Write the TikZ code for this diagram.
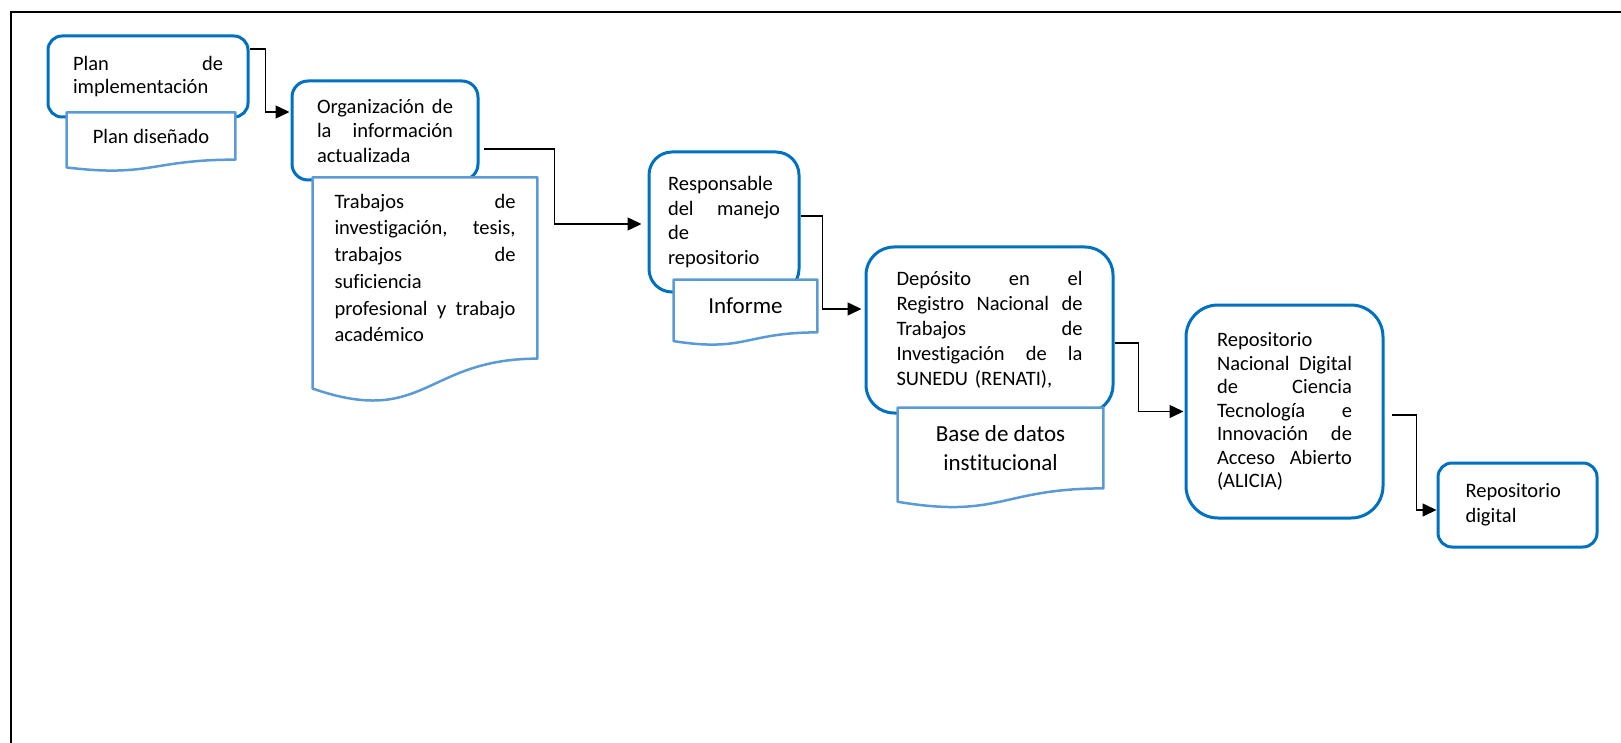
\documentclass[tikz,border=0pt]{standalone}
\usepackage{fontspec}
\setmainfont[Ligatures=NoCommon]{Carlito}
\usetikzlibrary{arrows.meta,calc}
\definecolor{boxblue}{RGB}{0,112,192}
\definecolor{docblue}{RGB}{91,155,213}

\begin{document}
\begin{tikzpicture}[x=0.5pt, y=-0.5pt,
    rbox/.style={draw=boxblue, line width=1.5pt, rounded corners=#1, fill=white, inner sep=0pt, align=left, font=\fontsize{10.25}{12.25}\selectfont},
    docbox/.style={fill=white, inner sep=0pt, font=\fontsize{10.25}{12.25}\selectfont},
    docline/.style={draw=docblue, line width=1.25pt, line join=round},
    conn/.style={-{Triangle[length=7pt,width=6.5pt]}, line width=0.75pt}]
      \useasboundingbox (0,0) rectangle (1621,743);
      % Frame
      \draw[line width=1pt] (11,743) -- (11,12) -- (1621,12);

      % Plan de implementacion
      \node[rbox=7pt, minimum width=100pt, minimum height=40.5pt, text width=75pt, font=\fontsize{10.25}{11.5}\selectfont] (plan) at (148,76.5) {Plan\hfill de\\implementación};
      \node[docbox, minimum width=84pt, minimum height=23.25pt] (plandoc) at (151,136) {Plan diseñado};

      % Organizacion de la informacion
      \node[rbox=8pt, minimum width=93pt, minimum height=49.5pt, text width=68pt] (orga) at (385,130.5) {Organización\hfill de\\la\hfill información\\actualizada};
      \node[docbox, minimum width=112pt, minimum height=90.25pt, text width=90.5pt, align=left, font=\fontsize{10.25}{13.35}\selectfont] (trabdoc) at (425,268) {Trabajos\hfill de\\investigación,\hfill tesis,\\trabajos\hfill de\\suficiencia\\profesional\hfill y\hfill trabajo\\académico};

      % Responsable
      \node[rbox=11.5pt, minimum width=75pt, minimum height=70pt, text width=56pt] (resp) at (724,222) {Responsable\\del\hfill manejo\\de\\repositorio};
      \node[docbox, minimum width=71.5pt, minimum height=26pt, font=\fontsize{11.5}{14.5}\selectfont] (infdoc) at (745.5,306) {Informe};

      % Deposito RENATI
      \node[rbox=14pt, minimum width=123.5pt, minimum height=83pt, text width=93pt, font=\fontsize{10.25}{12.5}\selectfont] (depo) at (989.5,330) {Depósito\hfill en\hfill el\\Registro\hfill Nacional\hfill de\\Trabajos\hfill de\\Investigación\hfill de\hfill la\\SUNEDU (RENATI),};
      \node[docbox, minimum width=102.5pt, minimum height=40pt, align=center, font=\fontsize{11.5}{14.5}\selectfont] (basedoc) at (1000.5,448) {Base de datos\\institucional};

      % ALICIA
      \node[rbox=16pt, minimum width=98.5pt, minimum height=106.5pt, text width=67.5pt, font=\fontsize{10.25}{11.75}\selectfont] (alicia) at (1284.5,411.5) {Repositorio\\Nacional\hfill Digital\\de\hfill Ciencia\\Tecnología\hfill e\\Innovación\hfill de\\Acceso\hfill Abierto\\(ALICIA)};

      % Repositorio digital
      \node[rbox=7pt, minimum width=79.5pt, minimum height=42pt, text width=52pt, font=\fontsize{10.25}{12.5}\selectfont] (digital) at (1517.5,505) {Repositorio\\digital};

      % Document outlines
      \foreach \d in {plandoc,trabdoc,infdoc,basedoc}
        \draw[docline] (\d.north west) -- (\d.north east) -- (\d.south east)
          .. controls (\d.south) and ($(\d.south)!-0.38!(\d.north)$) .. ($(\d.south west)!-0.165!(\d.north west)$) -- cycle;

      % Arrows
      \draw[conn] ([yshift=13.75pt]plan.east) -- ++(16,0) |- ([xshift=-0.5pt,yshift=9.25pt]orga.west);
      \draw[conn] ([xshift=2pt,yshift=-9.25pt]orga.east) -- ++(71,0) |- ([xshift=-3pt,yshift=-1pt]resp.west);
      \draw[conn] ([yshift=3pt]resp.east) -- ++(22,0) |- ([xshift=-1.5pt,yshift=10.5pt]depo.west);
      \draw[conn] ([yshift=-6.5pt]depo.east) -- ++(24,0) |- ([xshift=-0.5pt]alicia.west);
      \draw[conn] ([xshift=3.5pt,yshift=-1.75pt]alicia.east) -- ++(25,0) |- ([yshift=-2.5pt]digital.west);
\end{tikzpicture}
\end{document}
